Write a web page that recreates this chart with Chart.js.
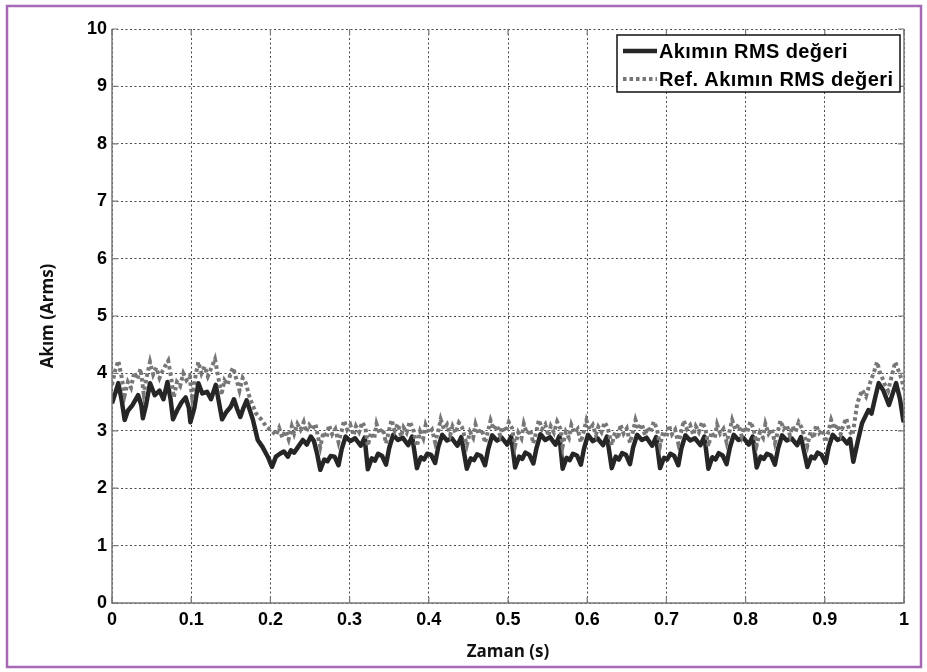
<!DOCTYPE html>
<html>
<head>
<meta charset="utf-8">
<script src="https://cdn.jsdelivr.net/npm/chart.js@4.4.1/dist/chart.umd.min.js"></script>
<style>
  html, body { margin: 0; padding: 0; background: #ffffff; }
  canvas { display: block; }
</style>
</head>
<body>
<canvas id="rmsChart" width="927" height="672"></canvas>
<script>
// Series names shown in the legend
const seriesNames = ['Akımın RMS değeri', 'Ref. Akımın RMS değeri'];

// Axis tick labels
const xTickLabels = ['0', '0.1', '0.2', '0.3', '0.4', '0.5', '0.6', '0.7', '0.8', '0.9', '1'];
const yTickLabels = ['0', '1', '2', '3', '4', '5', '6', '7', '8', '9', '10'];

// Measured RMS current: time (s)
const timeMeasured = [
  0.000, 0.004, 0.008, 0.012, 0.016, 0.020, 0.026, 0.033, 0.037, 0.039, 0.043, 0.048, 0.054, 0.060, 0.065, 0.070,
  0.074, 0.077, 0.082, 0.088, 0.093, 0.097, 0.099, 0.104, 0.109, 0.114, 0.120, 0.125, 0.131, 0.135, 0.139, 0.144,
  0.150, 0.154, 0.158, 0.162, 0.166, 0.170, 0.178, 0.184, 0.190, 0.197,
  0.202, 0.207, 0.212, 0.217, 0.222, 0.226, 0.230, 0.235, 0.241, 0.246, 0.251, 0.255, 0.259,
  0.263, 0.268, 0.272, 0.276, 0.281, 0.286, 0.290, 0.295, 0.301, 0.307, 0.314, 0.319,
  0.323, 0.328, 0.332, 0.336, 0.341, 0.346, 0.350, 0.355, 0.361, 0.367, 0.374, 0.379,
  0.385, 0.390, 0.394, 0.398, 0.403, 0.408, 0.412, 0.417, 0.423, 0.429, 0.436, 0.441,
  0.448, 0.453, 0.457, 0.461, 0.466, 0.471, 0.475, 0.480, 0.486, 0.492, 0.499, 0.504,
  0.509, 0.514, 0.518, 0.522, 0.527, 0.532, 0.536, 0.541, 0.547, 0.553, 0.560, 0.565,
  0.569, 0.574, 0.578, 0.582, 0.587, 0.592, 0.596, 0.601, 0.607, 0.613, 0.620, 0.625,
  0.631, 0.636, 0.640, 0.644, 0.649, 0.654, 0.658, 0.663, 0.669, 0.675, 0.682, 0.687,
  0.692, 0.697, 0.701, 0.705, 0.710, 0.715, 0.719, 0.724, 0.730, 0.736, 0.743, 0.748,
  0.753, 0.758, 0.762, 0.766, 0.771, 0.776, 0.780, 0.785, 0.791, 0.797, 0.804, 0.809,
  0.814, 0.819, 0.823, 0.827, 0.832, 0.837, 0.841, 0.846, 0.852, 0.858, 0.865, 0.870,
  0.878, 0.883, 0.887, 0.891, 0.896, 0.901, 0.905, 0.910, 0.916, 0.922, 0.928, 0.932,
  0.936, 0.942, 0.947, 0.955, 0.959, 0.964, 0.968, 0.974, 0.981, 0.990, 0.995, 0.999, 1.000
];
// Measured RMS current: amplitude (Arms)
const rmsMeasured = [
  3.48, 3.65, 3.83, 3.55, 3.19, 3.35, 3.45, 3.62, 3.45, 3.22, 3.45, 3.83, 3.62, 3.70, 3.55, 3.85,
  3.55, 3.20, 3.35, 3.50, 3.58, 3.40, 3.15, 3.40, 3.83, 3.65, 3.68, 3.55, 3.80, 3.50, 3.20, 3.32,
  3.42, 3.55, 3.38, 3.24, 3.40, 3.53, 3.19, 2.84, 2.72, 2.54,
  2.37, 2.55, 2.60, 2.64, 2.55, 2.66, 2.62, 2.72, 2.84, 2.76, 2.90, 2.82, 2.60,
  2.32, 2.50, 2.47, 2.56, 2.55, 2.40, 2.68, 2.90, 2.82, 2.87, 2.74, 2.88,
  2.33, 2.52, 2.48, 2.60, 2.56, 2.41, 2.70, 2.93, 2.84, 2.88, 2.75, 2.90,
  2.35, 2.54, 2.50, 2.60, 2.58, 2.44, 2.72, 2.93, 2.83, 2.87, 2.74, 2.89,
  2.34, 2.52, 2.49, 2.59, 2.56, 2.40, 2.68, 2.92, 2.83, 2.88, 2.76, 2.90,
  2.36, 2.55, 2.51, 2.62, 2.58, 2.43, 2.70, 2.94, 2.84, 2.89, 2.76, 2.91,
  2.34, 2.53, 2.49, 2.60, 2.57, 2.41, 2.69, 2.93, 2.82, 2.87, 2.75, 2.90,
  2.35, 2.55, 2.50, 2.61, 2.58, 2.42, 2.71, 2.93, 2.84, 2.88, 2.74, 2.89,
  2.35, 2.53, 2.50, 2.60, 2.56, 2.40, 2.70, 2.92, 2.83, 2.87, 2.75, 2.90,
  2.34, 2.54, 2.50, 2.61, 2.57, 2.42, 2.70, 2.93, 2.84, 2.88, 2.76, 2.90,
  2.36, 2.55, 2.51, 2.60, 2.57, 2.41, 2.69, 2.92, 2.83, 2.87, 2.75, 2.89,
  2.37, 2.55, 2.52, 2.62, 2.58, 2.44, 2.72, 2.93, 2.84, 2.88, 2.78, 2.86,
  2.46, 2.84, 3.13, 3.36, 3.30, 3.60, 3.83, 3.70, 3.45, 3.83, 3.55, 3.19, 3.15
];

// Reference RMS current: time (s)
const timeRef = [
  0.000, 0.004, 0.008, 0.012, 0.016, 0.020, 0.024, 0.028, 0.032, 0.036, 0.040, 0.044, 0.048, 0.052, 0.056, 0.060,
  0.064, 0.068, 0.071, 0.075, 0.078, 0.082, 0.086, 0.090, 0.094, 0.098, 0.101, 0.105, 0.109, 0.113, 0.117, 0.121,
  0.125, 0.130, 0.134, 0.138, 0.142, 0.146, 0.150, 0.153, 0.157, 0.161, 0.165, 0.169, 0.174, 0.182, 0.189, 0.195, 0.203,
  0.207, 0.211, 0.215, 0.219, 0.223, 0.227, 0.230, 0.234, 0.238, 0.242, 0.245, 0.249, 0.253, 0.257, 0.260,
  0.263, 0.267, 0.271, 0.274, 0.278, 0.282, 0.286, 0.290, 0.293, 0.297, 0.301, 0.305, 0.308, 0.312, 0.316, 0.320,
  0.323, 0.327, 0.331, 0.334, 0.338, 0.342, 0.346, 0.350, 0.353, 0.357, 0.361, 0.365, 0.368, 0.372, 0.376, 0.380,
  0.385, 0.389, 0.393, 0.396, 0.400, 0.404, 0.408, 0.412, 0.415, 0.419, 0.423, 0.427, 0.430, 0.434, 0.438, 0.442,
  0.448, 0.452, 0.456, 0.459, 0.463, 0.467, 0.471, 0.475, 0.478, 0.482, 0.486, 0.490, 0.493, 0.497, 0.501, 0.505,
  0.509, 0.513, 0.517, 0.520, 0.524, 0.528, 0.532, 0.536, 0.539, 0.543, 0.547, 0.551, 0.554, 0.558, 0.562, 0.566,
  0.569, 0.573, 0.577, 0.580, 0.584, 0.588, 0.592, 0.596, 0.599, 0.603, 0.607, 0.611, 0.614, 0.618, 0.622, 0.626,
  0.631, 0.635, 0.639, 0.642, 0.646, 0.650, 0.654, 0.658, 0.661, 0.665, 0.669, 0.673, 0.676, 0.680, 0.684, 0.688,
  0.692, 0.696, 0.700, 0.703, 0.707, 0.711, 0.715, 0.719, 0.722, 0.726, 0.730, 0.734, 0.737, 0.741, 0.745, 0.749,
  0.753, 0.757, 0.761, 0.764, 0.768, 0.772, 0.776, 0.780, 0.783, 0.787, 0.791, 0.795, 0.798, 0.802, 0.806, 0.810,
  0.814, 0.818, 0.822, 0.825, 0.829, 0.833, 0.837, 0.841, 0.844, 0.848, 0.852, 0.856, 0.859, 0.863, 0.867, 0.871,
  0.878, 0.882, 0.886, 0.889, 0.893, 0.897, 0.901, 0.905, 0.908, 0.912, 0.916, 0.920, 0.923, 0.927, 0.931, 0.935,
  0.941, 0.947, 0.952, 0.957, 0.962, 0.966, 0.970, 0.972, 0.976, 0.980, 0.985, 0.989, 0.993, 0.997, 1.000
];
// Reference RMS current: amplitude (Arms)
const rmsRef = [
  3.80, 4.05, 4.22, 3.95, 3.62, 3.85, 3.75, 4.02, 3.90, 4.08, 3.65, 3.95, 4.20, 3.98, 4.10, 3.92,
  4.05, 4.15, 4.22, 3.90, 3.58, 3.85, 3.78, 4.00, 3.88, 3.95, 3.60, 3.92, 4.20, 4.00, 4.12, 3.95,
  4.08, 4.25, 3.95, 3.62, 3.88, 3.80, 4.02, 4.10, 3.90, 3.70, 3.92, 3.83, 3.57, 3.30, 3.19, 3.07, 2.98,
  2.92, 3.05, 2.88, 3.00, 2.85, 3.08, 2.95, 3.12, 3.02, 3.15, 2.98, 3.10, 3.02, 3.12, 2.90,
  2.72, 2.98, 2.88, 3.10, 2.94, 3.03, 2.80, 3.00, 3.18, 3.02, 3.10, 2.92, 3.08, 2.98, 3.15, 3.05,
  2.74, 2.97, 2.86, 3.12, 2.95, 3.04, 2.78, 3.02, 3.19, 3.00, 3.12, 2.90, 3.06, 2.97, 3.16, 3.04,
  2.73, 2.99, 2.87, 3.10, 2.96, 3.02, 2.80, 3.00, 3.20, 3.03, 3.11, 2.93, 3.08, 2.96, 3.14, 3.06,
  2.75, 2.98, 2.88, 3.11, 2.94, 3.03, 2.79, 3.01, 3.18, 3.02, 3.10, 2.92, 3.07, 2.98, 3.15, 3.05,
  2.74, 2.97, 2.87, 3.12, 2.95, 3.02, 2.78, 3.00, 3.19, 3.03, 3.11, 2.91, 3.08, 2.97, 3.16, 3.04,
  2.73, 2.98, 2.88, 3.10, 2.96, 3.03, 2.80, 3.01, 3.18, 3.02, 3.10, 2.93, 3.07, 2.98, 3.15, 3.05,
  2.75, 2.97, 2.86, 3.11, 2.95, 3.04, 2.79, 3.00, 3.19, 3.02, 3.12, 2.92, 3.06, 2.97, 3.16, 3.04,
  2.74, 2.99, 2.88, 3.10, 2.94, 3.02, 2.78, 3.00, 3.18, 3.03, 3.10, 2.93, 3.08, 2.98, 3.15, 3.05,
  2.73, 2.98, 2.87, 3.11, 2.95, 3.03, 2.80, 3.01, 3.19, 3.02, 3.11, 2.91, 3.07, 2.97, 3.16, 3.04,
  2.75, 2.97, 2.88, 3.12, 2.95, 3.03, 2.79, 3.00, 3.18, 3.03, 3.10, 2.92, 3.08, 2.98, 3.15, 3.05,
  2.74, 2.98, 2.87, 3.10, 2.96, 3.02, 2.80, 3.01, 3.19, 3.03, 3.11, 2.94, 3.08, 3.22, 3.00, 2.92,
  3.48, 3.71, 3.60, 3.83, 4.02, 4.20, 4.00, 3.94, 3.80, 3.70, 3.98, 4.20, 4.05, 3.90, 3.72
];

const toPoints = (xs, ys) => xs.map((x, i) => ({ x: x, y: ys[i] }));

const tickFont = { family: '"Liberation Sans", Arial, sans-serif', size: 18, weight: 'bold' };
const titleFont = { family: '"Open Sans", sans-serif', size: 17, weight: 'bold' };

// Outer frame, plot box and inward tick marks
const framePlugin = {
  id: 'framePlugin',
  beforeDraw(chart) {
    const ctx = chart.ctx;
    ctx.save();
    ctx.fillStyle = '#ffffff';
    ctx.fillRect(0, 0, chart.width, chart.height);
    ctx.strokeStyle = '#a768b5';
    ctx.lineWidth = 2.5;
    ctx.strokeRect(7, 6, 914, 661);
    ctx.restore();
  },
  afterDraw(chart) {
    const ctx = chart.ctx;
    const a = chart.chartArea;
    const xs = chart.scales.x, ys = chart.scales.y;
    ctx.save();
    ctx.strokeStyle = '#7a7a7a';
    ctx.lineWidth = 1.5;
    ctx.beginPath();
    ctx.moveTo(a.left, a.top);
    ctx.lineTo(a.left, a.bottom);
    ctx.lineTo(a.right, a.bottom);
    ctx.lineTo(a.right, a.top);
    ctx.stroke();
    const tl = 6;
    ctx.lineWidth = 1.2;
    ctx.beginPath();
    xs.ticks.forEach(t => {
      const px = xs.getPixelForValue(t.value);
      ctx.moveTo(px, a.bottom); ctx.lineTo(px, a.bottom - tl);
      ctx.moveTo(px, a.top); ctx.lineTo(px, a.top + tl);
    });
    ys.ticks.forEach(t => {
      const py = ys.getPixelForValue(t.value);
      ctx.moveTo(a.left, py); ctx.lineTo(a.left + tl, py);
      ctx.moveTo(a.right, py); ctx.lineTo(a.right - tl, py);
    });
    ctx.stroke();
    ctx.restore();
  }
};

// Boxed legend placed in the upper-right corner of the plot
const boxLegendPlugin = {
  id: 'boxLegend',
  afterDraw(chart) {
    const ctx = chart.ctx;
    const a = chart.chartArea;
    const bx = a.right - 287, by = a.top + 6, bw = 283, bh = 57;
    ctx.save();
    ctx.fillStyle = '#ffffff';
    ctx.fillRect(bx, by, bw, bh);
    ctx.strokeStyle = '#111111';
    ctx.lineWidth = 1.5;
    ctx.strokeRect(bx, by, bw, bh);
    const rows = [by + 16, by + 44];
    chart.data.datasets.forEach((ds, i) => {
      const cy = rows[i];
      ctx.save();
      ctx.strokeStyle = ds.borderColor;
      ctx.lineWidth = ds.borderWidth;
      ctx.setLineDash(ds.borderDash || []);
      ctx.beginPath();
      ctx.moveTo(bx + 6, cy);
      ctx.lineTo(bx + 40, cy);
      ctx.stroke();
      ctx.restore();
      ctx.fillStyle = '#000000';
      ctx.font = 'bold 20px "Liberation Sans", Arial, sans-serif';
      if ('letterSpacing' in ctx) ctx.letterSpacing = '0.4px';
      ctx.textBaseline = 'alphabetic';
      ctx.textAlign = 'left';
      ctx.fillText(ds.label, bx + 42, cy + 7);
    });
    ctx.restore();
  }
};

new Chart(document.getElementById('rmsChart'), {
  type: 'line',
  data: {
    datasets: [
      {
        label: seriesNames[0],
        data: toPoints(timeMeasured, rmsMeasured),
        borderColor: '#262626',
        borderWidth: 4.5,
        pointRadius: 0,
        tension: 0,
        borderJoinStyle: 'round',
        order: 1
      },
      {
        label: seriesNames[1],
        data: toPoints(timeRef, rmsRef),
        borderColor: '#777777',
        borderWidth: 4,
        borderDash: [3.5, 3],
        pointRadius: 0,
        tension: 0,
        order: 0
      }
    ]
  },
  options: {
    responsive: false,
    animation: false,
    devicePixelRatio: 1,
    layout: { padding: { top: 29, right: 23, left: 0, bottom: 0 } },
    plugins: { legend: { display: false }, tooltip: { enabled: false } },
    scales: {
      x: {
        type: 'linear',
        min: 0,
        max: 1,
        afterFit(scale) { scale.height = 69; },
        ticks: {
          stepSize: 0.1,
          autoSkip: false,
          maxRotation: 0,
          padding: 6,
          color: '#000000',
          font: tickFont,
          callback: (v, i) => xTickLabels[i]
        },
        grid: { color: '#4a4a4a', lineWidth: 1, drawTicks: false },
        border: { display: false, dash: [2, 2.5] },
        title: { display: true, text: 'Zaman (s)', color: '#111111', font: titleFont, padding: { top: 0, bottom: 10 } }
      },
      y: {
        type: 'linear',
        min: 0,
        max: 10,
        afterFit(scale) { scale.width = 112; },
        ticks: {
          stepSize: 1,
          autoSkip: false,
          padding: 5,
          color: '#000000',
          font: tickFont,
          callback: (v, i) => yTickLabels[i]
        },
        grid: { color: '#4a4a4a', lineWidth: 1, drawTicks: false },
        border: { display: false, dash: [2, 2.5] },
        title: { display: true, text: 'Akım (Arms)', color: '#111111', font: titleFont, padding: { top: 38, bottom: 0 } }
      }
    }
  },
  plugins: [framePlugin, boxLegendPlugin]
});
</script>
</body>
</html>
